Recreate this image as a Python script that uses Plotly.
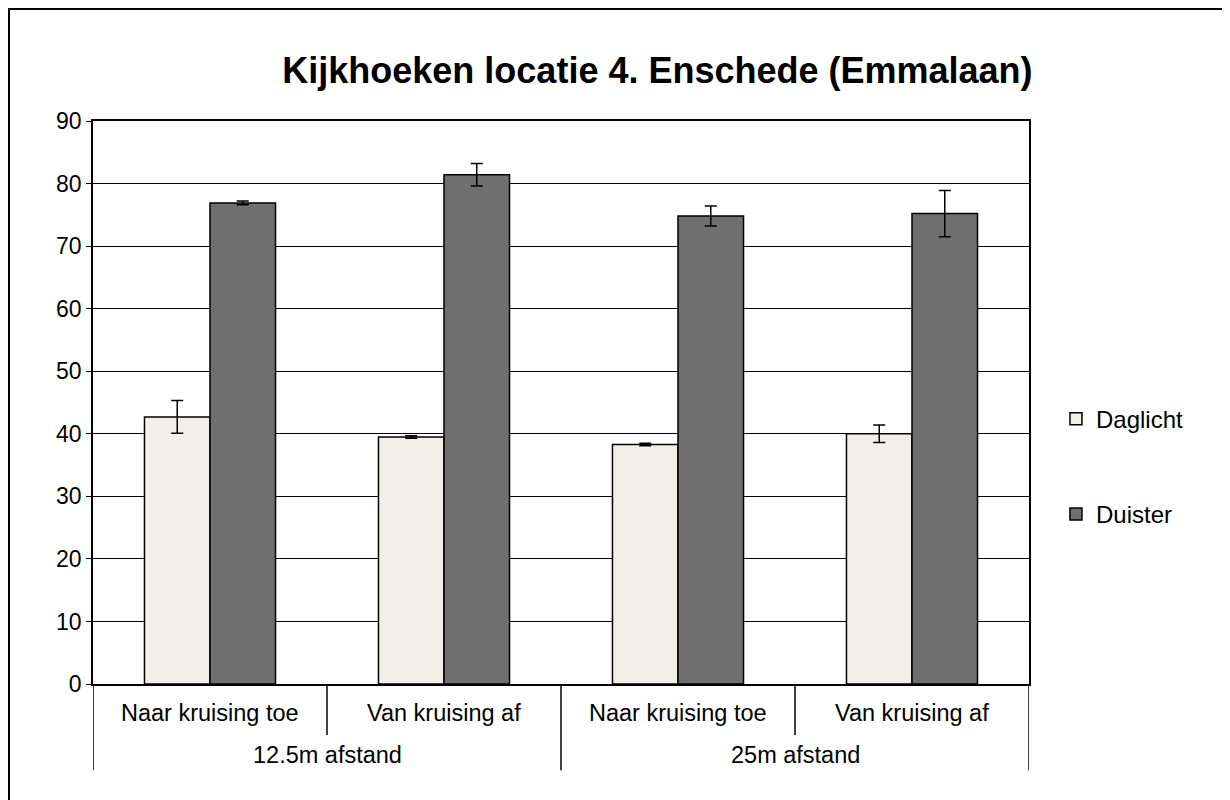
import plotly.graph_objects as go

groups = ["12.5m afstand", "25m afstand"]
categories = ["Naar kruising toe", "Van kruising af", "Naar kruising toe", "Van kruising af"]
daglicht = [42.7, 39.5, 38.3, 40.0]
daglicht_err = [2.6, 0.2, 0.2, 1.4]
duister = [76.9, 81.4, 74.8, 75.2]
duister_err = [0.3, 1.8, 1.6, 3.7]
y_ticks = [0, 10, 20, 30, 40, 50, 60, 70, 80, 90]

xpos = list(range(len(categories)))
per_group = len(categories) // len(groups)

fig = go.Figure()
fig.add_trace(go.Bar(
    name="Daglicht", x=xpos, y=daglicht,
    marker=dict(color="#F2EFE8", line=dict(color="black", width=1.5)),
    error_y=dict(type="data", array=daglicht_err, color="black", thickness=1.5, width=6),
    legendgroup="a",
))
fig.add_trace(go.Bar(
    name="Duister", x=xpos, y=duister,
    marker=dict(color="#6F6F6F", line=dict(color="black", width=1.5)),
    error_y=dict(type="data", array=duister_err, color="black", thickness=1.5, width=6),
    legendgroup="b",
))

annotations = []
for i, c in enumerate(categories):
    annotations.append(dict(x=i, xref="x", y=-0.0515, yref="paper", text=c,
                            showarrow=False, xanchor="center", yanchor="middle",
                            font=dict(size=23.5)))
for g, name in enumerate(groups):
    annotations.append(dict(x=g * per_group + (per_group - 1) / 2, xref="x", y=-0.126,
                            yref="paper", text=name, showarrow=False,
                            xanchor="center", yanchor="middle", font=dict(size=23.5)))

shapes = []
n = len(categories)
for k in range(n + 1):
    b = k - 0.5
    outer = (k % per_group == 0)
    shapes.append(dict(type="line", xref="x", yref="paper", x0=b, x1=b,
                       y0=0, y1=-0.153 if outer else -0.0906,
                       line=dict(color="black", width=1.5)))
# outer chart border
shapes.append(dict(type="rect", xref="paper", yref="paper",
                   x0=-84 / 936, x1=1 + 208 / 936, y0=-123 / 563, y1=1 + 112 / 563,
                   line=dict(color="black", width=2)))

fig.update_layout(
    width=1230, height=800,
    barmode="group", bargap=0.44, bargroupgap=0,
    paper_bgcolor="white", plot_bgcolor="white",
    margin=dict(l=85, r=209, t=113, b=124),
    font=dict(family="Arial, Liberation Sans, sans-serif", size=24, color="black"),
    title=dict(text="<b>Kijkhoeken locatie 4. Enschede (Emmalaan)</b>",
               font=dict(size=36, color="black"), x=0.528, xanchor="center",
               y=0.9225, yanchor="middle"),
    legend=dict(x=1.0288, xanchor="left", y=0.386, yanchor="middle",
                font=dict(size=24), tracegroupgap=61, traceorder="grouped",
                itemwidth=30),
    annotations=annotations,
    shapes=shapes,
)
fig.update_yaxes(range=[0, 90], tickvals=y_ticks, showgrid=True, gridcolor="black",
                 gridwidth=1, showline=True, linecolor="black", linewidth=1.5,
                 ticks="outside", ticklen=5, tickcolor="black", mirror=True,
                 zeroline=False, tickfont=dict(size=23))
fig.update_xaxes(range=[-0.5, n - 0.5], showline=True, linecolor="black",
                 linewidth=1.5, mirror=True, showticklabels=False, ticks="",
                 showgrid=False, zeroline=False)

fig.write_html("out.html")
